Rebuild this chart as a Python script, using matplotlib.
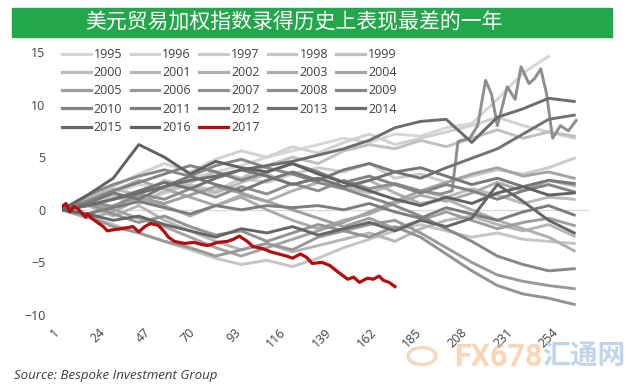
import numpy as np
import matplotlib.pyplot as plt
from matplotlib.lines import Line2D
from matplotlib.patches import Rectangle, Circle

# trading-day grid used for the grey years
days = [1, 14, 27, 40, 53, 66, 79, 92, 105, 118, 131, 144, 157, 170, 183, 196, 209, 222, 235, 248, 261]

y1995 = [0, 0.8, 1.6, 2.4, 2.0, 3.0, 3.6, 4.2, 5.0, 5.6, 6.2, 6.8, 6.4, 7.2, 7.0, 7.8, 8.2, 10.5, 13.0, 14.6, np.nan]
y1996 = [0, 1.0, 2.2, 3.4, 4.4, 3.6, 4.8, 5.6, 5.0, 6.0, 5.4, 6.4, 7.2, 6.2, 6.8, 7.4, 8.0, 8.8, 8.0, 7.4, 6.8]
y1997 = [0, 0.4, 1.2, 0.6, 1.6, 2.4, 1.8, 3.0, 2.6, 3.4, 4.0, 3.6, 4.4, 3.0, 3.4, 2.6, 3.2, 3.8, 3.4, 4.0, 4.9]
y1998 = [0, -0.6, -1.4, -2.2, -3.0, -3.8, -4.6, -5.2, -4.8, -5.4, -4.6, -3.6, -2.8, -2.0, -1.4, -2.0, -2.6, -2.2, -2.8, -3.0, -3.2]
y1999 = [0, 0.8, 1.4, 0.6, 1.8, 2.6, 3.6, 3.0, 4.2, 5.0, 4.4, 5.6, 6.2, 5.8, 6.6, 6.0, 6.8, 7.6, 6.8, 7.4, 7.0]
y2000 = [0, 1.2, 2.0, 1.4, 2.8, 2.2, 1.6, 2.6, 3.4, 2.4, 3.0, 2.2, 1.6, 2.4, 1.8, 1.2, 2.0, 1.4, 0.6, 1.2, 1.0]
y2001 = [0, 0.4, -0.6, 0.4, -1.0, -2.0, -3.0, -3.8, -3.2, -4.0, -3.4, -2.8, -2.2, -3.0, -1.8, -1.0, -0.6, -1.4, -2.0, -1.4, -2.5]
y2002 = [0, -0.8, -0.2, 1.0, 0.4, -0.6, 0.4, 1.4, 0.8, 1.8, 2.6, 2.0, 2.8, 1.6, 0.6, 1.0, 0.0, -1.0, -1.8, -2.6, -3.9]
y2003 = [0, 1.0, 1.8, 2.8, 2.0, 1.2, 0.4, 1.2, 0.0, -1.0, -1.8, -1.0, -0.4, 0.6, 1.4, 0.8, 1.6, 2.6, 1.8, 2.8, 2.3]
y2004 = [0, 0.6, 0.0, -0.8, -1.6, -2.6, -3.6, -4.4, -3.6, -2.8, -2.0, -1.2, -0.2, 0.8, 1.8, 2.6, 3.4, 4.0, 3.2, 3.6, 3.0]
y2005 = [0, -0.4, 0.4, 1.2, 0.6, 1.4, 2.2, 1.6, 0.8, 0.0, -0.8, -1.6, -0.8, -1.8, -1.0, -0.2, -1.0, -1.8, -1.2, -0.8, -1.5]
y2006 = [0, -0.6, -1.6, -2.2, -3.0, -3.6, -4.4, -3.8, -3.2, -3.8, -2.6, -2.0, -1.4, -1.0, -2.2, -3.6, -5.0, -6.2, -6.8, -7.2, -7.5]
y2007 = [0, 0.6, -0.4, -1.2, -0.6, -1.6, -2.4, -2.0, -3.0, -2.2, -1.4, -2.0, -2.6, -1.6, -2.6, -4.2, -5.8, -7.2, -8.0, -8.4, -9.0]
y2009 = [0, 1.4, 2.4, 3.2, 3.8, 3.2, 4.2, 4.8, 4.0, 3.4, 2.6, 2.0, 1.2, 0.4, -0.6, -1.8, -3.0, -4.4, -5.2, -5.8, -5.6]
y2010 = [0, 0.8, 1.8, 2.6, 3.4, 4.2, 3.6, 2.8, 3.6, 4.4, 3.6, 2.6, 3.2, 2.4, 1.6, 2.4, 1.8, 1.0, 1.8, 2.4, 1.7]
y2011 = [0, -0.4, 0.2, 0.8, 0.2, -0.4, 0.4, 0.0, 0.4, 0.2, 0.4, 0.0, 0.6, -0.2, -0.8, 0.2, -0.4, -1.0, -0.2, 0.4, -0.5]
y2012 = [0, 0.6, 1.6, 1.0, 2.2, 3.2, 2.4, 1.8, 2.8, 3.6, 2.8, 3.8, 4.4, 3.6, 4.0, 3.2, 2.4, 3.0, 2.2, 2.8, 2.5]
y2013 = [0, 0.4, 1.0, 1.8, 2.6, 2.0, 3.0, 3.8, 3.2, 2.4, 3.0, 2.2, 2.8, 3.6, 3.0, 4.0, 4.9, 5.8, 7.2, 8.6, 9.0]
y2014 = [0, 0.4, 1.0, 1.6, 2.2, 2.8, 3.2, 3.8, 4.2, 4.6, 5.2, 5.8, 6.6, 7.8, 8.4, 8.6, 6.4, 8.8, 9.6, 10.6, 10.3]
y2015 = [0, -0.4, -1.0, -0.6, -1.4, -2.0, -2.6, -1.8, -2.2, -1.6, -2.4, -1.8, -1.2, -2.0, -1.0, -1.6, -0.8, 2.4, 0.8, -1.0, -2.2]
y2016 = [0, 1.4, 3.0, 6.2, 5.0, 3.4, 4.6, 4.0, 3.6, 4.4, 3.4, 2.6, 1.8, 1.0, 0.4, 1.2, 0.6, 1.6, 2.2, 1.4, 1.6]

# 2008 has its own finer sampling (spikes late in the year)
days2008 = [1, 14, 27, 40, 53, 66, 79, 92, 105, 118, 131, 144, 157, 170, 183, 193, 199, 202,
            208, 212, 216, 219, 222, 227, 231, 234, 238, 241, 244, 247, 250, 254, 258, 262]
y2008 = [0, 0.8, 0.3, 1.5, 1.0, 2.0, 1.2, 2.2, 1.5, 2.5, 1.8, 2.8, 2.0, 2.5, 1.8, 1.5, 1.8, 6.5,
         6.8, 8.0, 12.3, 11.0, 8.0, 11.7, 10.5, 13.6, 12.0, 12.5, 13.4, 11.0, 6.8, 8.0, 7.5, 8.5]

# 2017 year to date
days2017 = [1, 3, 5, 7, 9, 11, 13, 14, 16, 19, 22, 24, 27, 31, 34, 37, 40, 43, 46, 50, 53, 55,
            58, 63, 68, 72, 75, 80, 85, 88, 91, 95, 98, 103, 107, 111, 115, 118, 122, 125, 128,
            133, 137, 141, 146, 149, 152, 156, 159, 162, 164, 167, 170]
y2017 = [0.3, 0.6, -0.2, 0.3, 0.1, -0.3, -0.7, -0.4, -0.8, -1.2, -1.6, -2.0, -1.9, -1.8, -1.7,
         -1.6, -2.1, -1.6, -1.3, -1.5, -2.1, -2.6, -3.0, -3.2, -3.1, -3.3, -3.4, -3.1, -3.0, -2.8,
         -2.5, -3.0, -3.5, -3.7, -4.0, -4.2, -4.4, -4.6, -4.2, -4.5, -5.1, -5.0, -5.3, -5.9, -6.6,
         -6.4, -6.9, -6.5, -6.6, -6.3, -6.7, -6.9, -7.3]

xticks = [1, 24, 47, 70, 93, 116, 139, 162, 185, 208, 231, 254]
yticks = [-10, -5, 0, 5, 10, 15]

series = {
    1995: (days, y1995), 1996: (days, y1996), 1997: (days, y1997), 1998: (days, y1998),
    1999: (days, y1999), 2000: (days, y2000), 2001: (days, y2001), 2002: (days, y2002),
    2003: (days, y2003), 2004: (days, y2004), 2005: (days, y2005), 2006: (days, y2006),
    2007: (days, y2007), 2008: (days2008, y2008), 2009: (days, y2009), 2010: (days, y2010),
    2011: (days, y2011), 2012: (days, y2012), 2013: (days, y2013), 2014: (days, y2014),
    2015: (days, y2015), 2016: (days, y2016),
}

fig = plt.figure(figsize=(6.36, 3.86), dpi=100)
ax = fig.add_axes([62 / 636, 71 / 386, 528 / 636, 263 / 386])

ax.axhline(0, color="#d9d9d9", lw=0.9, zorder=0)

greys = np.linspace(0.84, 0.38, len(series))
handles = {}
for (yr, (dx, dy)), g in zip(series.items(), greys):
    c = (g, g, g)
    ax.plot(dx, dy, color=c, lw=2.1, solid_joinstyle="round")
    handles[yr] = Line2D([], [], color=c, lw=2.3)

ax.plot(days2017, y2017, color="#b40c0c", lw=2.3, zorder=5)
handles[2017] = Line2D([], [], color="#b40c0c", lw=2.3)

ax.set_xlim(1, 269)
ax.set_ylim(-10, 15)
for s in ax.spines.values():
    s.set_visible(False)
ax.set_yticks(yticks)
ax.set_xticks(xticks)
ax.set_xticklabels([str(t) for t in xticks], rotation=45, ha="right", va="top")
ax.tick_params(length=0, labelsize=9, labelcolor="#404040")
ax.tick_params(axis="y", pad=12)
ax.tick_params(axis="x", pad=8)
for lab in ax.get_xticklabels() + ax.get_yticklabels():
    lab.set_family("Open Sans")

# legend: row-major order in 5 columns (matplotlib fills column by column)
order = []
for c in range(5):
    nrow = 5 if c < 3 else 4
    for r in range(nrow):
        order.append(1995 + r * 5 + c)
leg = ax.legend([handles[y] for y in order], [str(y) for y in order], ncol=5,
                loc="upper left", bbox_to_anchor=(62 / 636, 1 - 48 / 386),
                bbox_transform=fig.transFigure, frameon=False, borderpad=0, borderaxespad=0,
                handlelength=2.3, handletextpad=0.25, columnspacing=0.65, labelspacing=0.42,
                prop={"family": "Open Sans", "size": 9})
for t in leg.get_texts():
    t.set_color("#404040")

# title banner
fig.patches.append(Rectangle((12 / 636, 1 - 37 / 386), 600 / 636, 29 / 386,
                             transform=fig.transFigure, color="#22a84a", zorder=0))
fig.text(294 / 636, 1 - 22 / 386, "美元贸易加权指数录得历史上表现最差的一年", color="white",
         fontsize=15, family="Noto Sans CJK SC", ha="center", va="center")

fig.text(14 / 636, 1 - 375 / 386, "Source: Bespoke Investment Group", style="italic",
         fontsize=9.5, family="Open Sans", color="#3c3c4a", ha="left", va="center")

# watermark
fig.patches.append(Circle((422 / 636, 1 - 356 / 386), 14 / 636, transform=fig.transFigure,
                          fill=False, ec="#f3b48c", lw=2.5, alpha=0.55))
fig.text(454 / 636, 1 - 357 / 386, "FX678", fontsize=22, family="Roboto", weight="bold",
         color="#f7b98a", alpha=0.6, ha="left", va="center")
fig.text(542 / 636, 1 - 357 / 386, "汇通网", fontsize=20, family="Noto Sans CJK SC",
         weight="bold", color="#a9c3e3", alpha=0.7, ha="left", va="center")

fig.savefig("out.png", dpi=100)
